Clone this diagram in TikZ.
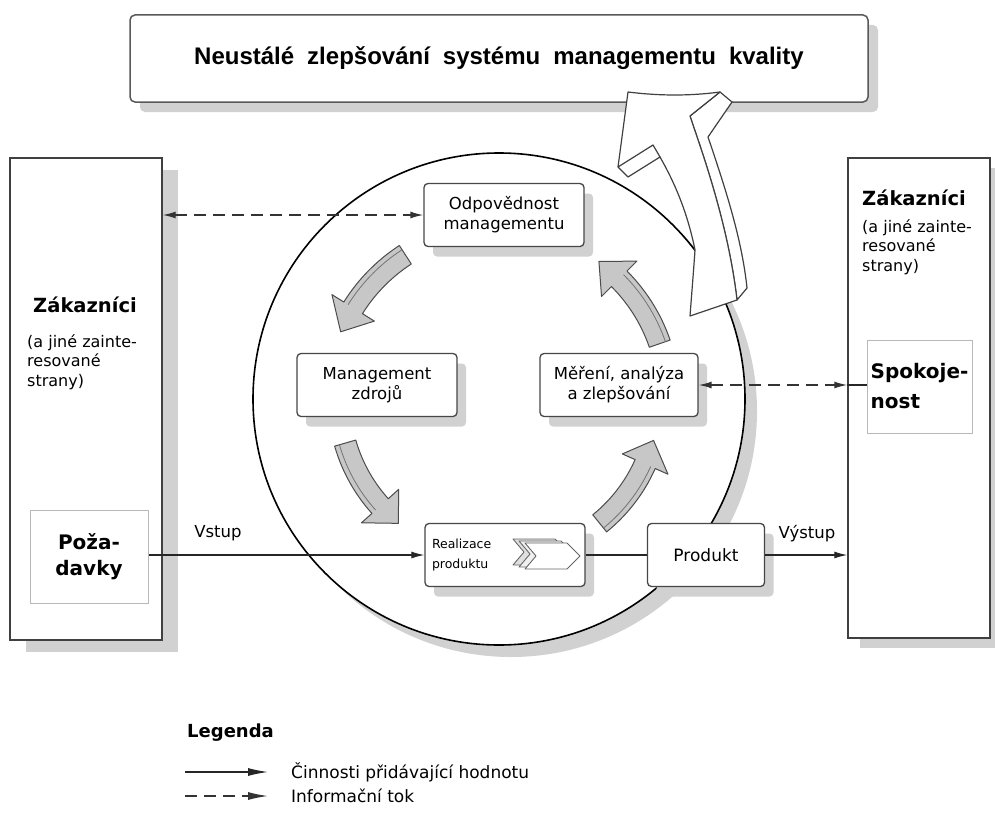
\documentclass[tikz,border=0pt]{standalone}
\usepackage{fontspec}
\setmainfont{DejaVu Sans}
\newfontfamily\titlefont{Liberation Sans}
\usetikzlibrary{arrows.meta,shadows}
\newcommand{\sz}[2]{\fontsize{#1}{#2}\selectfont}
\newcommand{\cycarrow}[3]{%
  \pgfmathsetmacro{\hbase}{#2+9}%
  \filldraw[cyc, shift={(cc)}] plot[domain=#1:\hbase, samples=16] (\x:{#3+11})
     -- (\hbase:{#3+25}) -- (#2:#3) -- (\hbase:{#3-25})
     -- plot[domain=\hbase:#1, samples=16] (\x:{#3-11}) -- cycle;
  \draw[cycline, shift={(cc)}] plot[domain=#1:\hbase, samples=16] (\x:{#3+6});
}
\begin{document}
\begin{tikzpicture}[x=1pt,y=-1pt,
  shd/.style 2 args={drop shadow={shadow xshift=#1pt, shadow yshift=-#2pt, opacity=1, fill=black!18}},
  procbox/.style={draw=black!72, line width=1.3pt, rounded corners=4pt, fill=white,
     minimum width=160pt, minimum height=63pt, align=center, inner sep=2pt, font=\sz{16.5}{20}},
  bigbox/.style={draw=black!75, line width=1.4pt, fill=white},
  innerbox/.style={draw=black!28, line width=1pt, fill=white},
  info/.style={draw=black!80, line width=1.4pt, dash pattern=on 12pt off 7pt},
  flow/.style={draw=black!85, line width=1.2pt},
  arr/.style={-{Latex[length=13pt,width=7pt]}},
  biarr/.style={{Latex[length=13pt,width=7pt]}-{Latex[length=13pt,width=7pt]}},
  legarr/.style={-{Latex[length=20pt,width=8pt]}},
  cyc/.style={fill=black!22, draw=black!70, line width=1pt, line join=round},
  cycline/.style={draw=black!55, line width=.8pt},
  bigarr/.style={fill=white, draw=black!75, line width=1.2pt, line join=round},
  lbl/.style={font=\sz{16.5}{20}, inner sep=1pt},
  chev/.style={draw=black!60, line width=.9pt, line join=round},
]
\useasboundingbox (0,0) rectangle (995,816);
\fill[white] (0,0) rectangle (995,816);

% title box
\node[draw=black!65, line width=1.5pt, rounded corners=5pt, fill=white,
      minimum width=738pt, minimum height=87pt, shd={10}{10}] (title) at (499,58.5)
      {\titlefont\bfseries\sz{24}{24}\spaceskip=13pt Neustálé zlepšování systému managementu kvality};

% customer boxes
\node[bigbox, shd={16}{12}, minimum width=152pt, minimum height=482pt] (lbox) at (86,399) {};
\node[bigbox, shd={12}{10}, minimum width=142pt, minimum height=480pt] (rbox) at (919,398) {};

% main circle
\coordinate (cc) at (499,399);
\draw[line width=1.6pt, fill=white, shd={12}{12}] (cc) circle (246);

% big improvement arrow
\filldraw[bigarr] (720,92) -- (732,102) -- (708,137)
   .. controls (726,190) and (742,240) .. (747,288) -- (737,300)
   .. controls (730,240) and (712,180) .. (694,128) -- (690,116) -- cycle;
\filldraw[bigarr] (628,92) .. controls (660,96) and (690,96) .. (720,92) -- (690,116) -- (694,128)
   .. controls (712,180) and (730,240) .. (737,300) -- (690,316)
   .. controls (692,290) and (694,265) .. (695,250)
   .. controls (688,215) and (676,185) .. (660,157) -- (628,177) -- (618,167) -- cycle;
\draw[bigarr, fill=none] (618,167) -- (653,145) -- (660,157);

% cycle arrows
\cycarrow{237}{203}{172}
\cycarrow{164}{129}{160}
\cycarrow{51}{15}{160}
\cycarrow{-19}{-54}{170}

% process boxes
\node[procbox, shd={9}{10}] (odp) at (504,215) {Odpovědnost\\managementu};
\node[procbox, shd={9}{10}] (mz) at (377,385) {Management\\zdrojů};
\node[procbox, shd={9}{10}, minimum width=158pt] (mer) at (619,385) {Měření, analýza\\a zlepšování};
\node[procbox, shd={9}{10}, align=left, text width=146pt, font=\sz{12.5}{20}] (real) at (505,555) {Realizace\\produktu};
\node[procbox, shd={9}{10}, minimum width=117pt, font=\sz{17}{20}] (prod) at (706,555) {Produkt};

% chevrons inside Realizace
\foreach \d/\f in {12/black!12, 6/black!6, 0/white}
  \filldraw[chev, fill=\f, shift={(real.center)}, shift={(-\d,-\d/3)}]
    (20,-12) -- (62,-12) -- (75,1) -- (62,14) -- (20,14) -- (31,1) -- cycle;

% inner boxes
\node[innerbox, minimum width=118pt, minimum height=93pt, align=center,
      font=\sz{20}{26}\bfseries] (poz) at (89,556.5) {Poža-\\davky};
\node[innerbox, minimum width=105pt, minimum height=93pt, align=left, inner sep=2pt,
      font=\sz{20}{30}\bfseries] (spok) at (919.5,386.5) {Spokoje-\\nost};

% customer texts
\node[font=\sz{19.5}{22}\bfseries, inner sep=0] (lz) at (85,305) {Zákazníci};
\node[anchor=north west, align=left, inner sep=0, font=\sz{16}{19.5}] (lzt) at (27,334)
   {(a jiné zainte-\\resované\\strany)};
\node[anchor=west, font=\sz{19.5}{22}\bfseries, inner sep=0] (rz) at (862,198) {Zákazníci};
\node[anchor=north west, align=left, inner sep=0, font=\sz{16}{19.5}] (rzt) at (862,219)
   {(a jiné zainte-\\resované\\strany)};

% connectors
\draw[info, biarr] (lbox.east |- odp.west) -- (odp.west);
\draw[info, biarr] (mer.east) -- (rbox.west |- mer.east);
\draw[flow] (rbox.west |- mer.east) -- (spok.west |- mer.east);
\draw[flow, arr] (poz.east |- real.west) -- (real.west);
\draw[flow] (real.east) -- (prod.west);
\draw[flow, arr] (prod.east) -- (rbox.west |- prod.east);
\node[lbl] (vstup) at (218,533) {Vstup};
\node[lbl] (vystup) at (807,534) {Výstup};

% legend
\node[anchor=west, inner sep=0, font=\sz{18}{20}\bfseries] (leg) at (187,733) {Legenda};
\coordinate (s1) at (185,772); \coordinate (e1) at (268,772);
\coordinate (s2) at (185,796); \coordinate (e2) at (268,796);
\draw[flow, legarr] (s1) -- (e1);
\draw[info, legarr] (s2) -- (e2);
\node[anchor=west, inner sep=0, font=\sz{17}{20}] (t1) at (291,772) {Činnosti přidávající hodnotu};
\node[anchor=west, inner sep=0, font=\sz{17}{20}] (t2) at (291,796) {Informační tok};
\end{tikzpicture}
\end{document}
